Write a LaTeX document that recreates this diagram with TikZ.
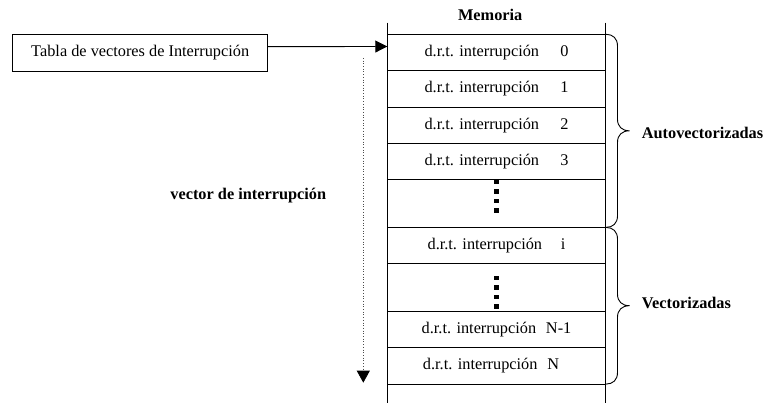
\documentclass[tikz,border=0pt]{standalone}
\usepackage{fontspec}
\setmainfont{Liberation Serif}
\usetikzlibrary{arrows.meta,positioning}

\begin{document}
\begin{tikzpicture}[
  x=1pt, y=-1pt,
  font=\fontsize{16.3}{19}\selectfont,
  thinline/.style={line width=0.9pt},
  cell/.style={draw, thinline, minimum width=218.4pt, minimum height=36.4pt,
               inner sep=0pt, outer sep=0pt},
  gapcell/.style={cell, minimum height=47.5pt},
  titlebox/.style={draw, thinline, minimum width=255pt, minimum height=36.7pt,
                   inner sep=0pt},
  boldlabel/.style={font=\fontsize{16.3}{19}\selectfont\bfseries, inner sep=0pt},
  bracestyle/.style={thinline},
  dotmark/.style={fill=black}
]
\useasboundingbox (0,0) rectangle (768,403);

% memory cells, stacked from the top
\node[cell, anchor=north] (r0) at (496.5,34.3) {d.r.t. interrupción\hspace{1.3em}0};
\node[cell, below=0pt of r0] (r1) {d.r.t. interrupción\hspace{1.3em}1};
\node[cell, below=0pt of r1] (r2) {d.r.t. interrupción\hspace{1.3em}2};
\node[cell, below=0pt of r2] (r3) {d.r.t. interrupción\hspace{1.3em}3};
\node[gapcell, below=0pt of r3] (e1) {};
\node[cell, below=0pt of e1] (ri) {d.r.t. interrupción\hspace{1.15em}i};
\node[gapcell, below=0pt of ri] (e2) {};
\node[cell, below=0pt of e2] (rn1) {d.r.t. interrupción\hspace{0.6em}N-1};
\node[cell, below=0pt of rn1] (rn) {d.r.t. interrupción\hspace{0.6em}N\hspace*{11pt}};

% side walls of the memory column
\coordinate (wlt) at (387.3,22.7);
\coordinate (wrt) at (605.7,22.7);
\coordinate (wlb) at (387.3,403);
\coordinate (wrb) at (605.7,403);
\draw[thinline] (wlt) -- (wlb);
\draw[thinline] (wrt) -- (wrb);

% column title
\node[boldlabel, anchor=base] (mem) at (490.2,21) {Memoria};

% ellipsis marks in the unnamed cells
\foreach \y in {179.3,189.3,198.8,208.3}
  \fill[dotmark] (494.3,\y) rectangle ++(4.4,4.4);
\foreach \y in {275.7,285.2,294.8,304.2}
  \fill[dotmark] (494.3,\y) rectangle ++(4.4,4.4);

% table box and pointer into memory
\node[titlebox] (tabla) at (140.2,52.65) {Tabla de vectores de Interrupción};
\draw[thinline, -{Triangle[width=12pt,length=12pt]}]
  ([yshift=6pt]tabla.east) -- ([yshift=6pt]r0.west);

% direction of the interrupt vector
\coordinate (dtop) at (363.3,58);
\coordinate (dbot) at (363.3,382.7);
\draw[dotted, line width=0.7pt, draw=black!70, -{Triangle[width=13pt,length=12pt,black]}]
  (dtop) -- (dbot);
\node[boldlabel, anchor=base] (vec) at (248.3,200) {vector de interrupción};

% braces grouping the cells
\draw[bracestyle]
  (606,34.3) .. controls (613,34.3) and (617.5,38.5) .. (617.5,46)
  -- (617.5,119.3) .. controls (617.5,126.5) and (622,130.8) .. (629.5,130.8)
  .. controls (622,130.8) and (617.5,135) .. (617.5,142.3)
  -- (617.5,215.8) .. controls (617.5,223.2) and (613,227.4) .. (606,227.4);
\draw[bracestyle]
  (606,227.4) .. controls (613,227.4) and (617.5,231.6) .. (617.5,239)
  -- (617.5,294.2) .. controls (617.5,301.5) and (622,305.7) .. (629.5,305.7)
  .. controls (622,305.7) and (617.5,310) .. (617.5,317.2)
  -- (617.5,372.5) .. controls (617.5,379.9) and (613,384.1) .. (606,384.1);

\node[boldlabel, anchor=base west] (auto) at (641.7,138.3) {Autovectorizadas};
\node[boldlabel, anchor=base west] (vect) at (641.7,308.3) {Vectorizadas};
\end{tikzpicture}
\end{document}
